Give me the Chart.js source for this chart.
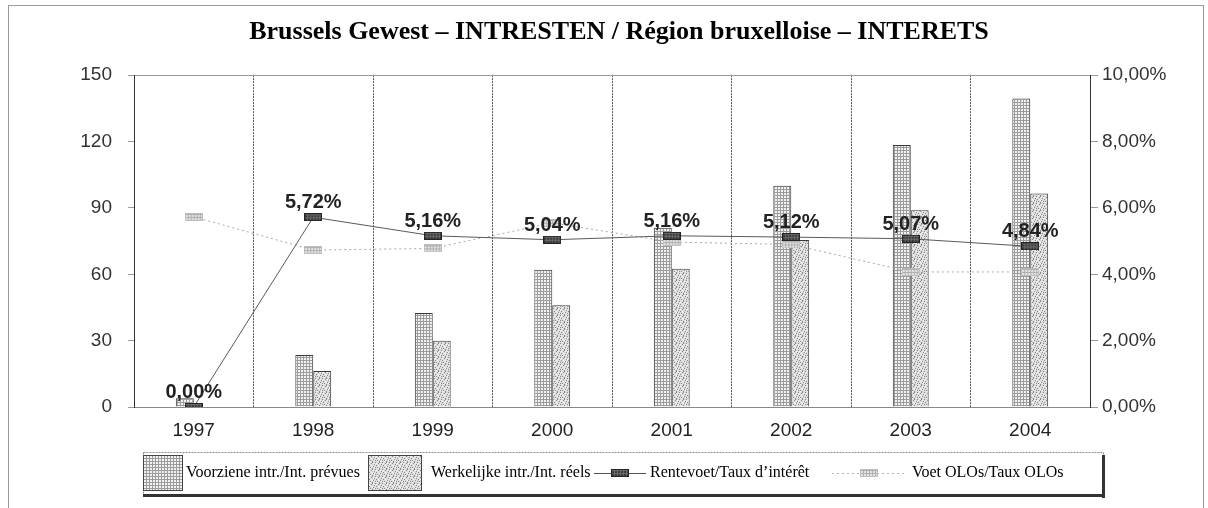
<!DOCTYPE html>
<html lang="fr">
<head>
  <meta charset="UTF-8">
  <title>Brussels Gewest - Intresten</title>
  <script src="https://cdn.jsdelivr.net/npm/chart.js"></script>
  <style>
    body {
      margin: 0;
      background: #fff;
    }

    .wrap {
      position: relative;
      width: 1208px;
      height: 508px;
    }

    .frame {
      position: absolute;
      left: 8px;
      top: 5px;
      width: 1194px;
      height: 510px;
      border: 1px solid #9a9a9a;
      pointer-events: none;
    }
  </style>
</head>
<body>

  <div class="wrap">
    <canvas id="chart" width="1208" height="508"></canvas>
    <div class="frame"></div>
  </div>

  <script>
    const years = ["1997", "1998", "1999", "2000", "2001", "2002", "2003", "2004"];
    const voorziene = [4, 23.5, 42.5, 62, 81, 100, 118.5, 139.5];
    const werkelijke = [0, 16.3, 30, 46, 62.5, 75.5, 89, 96.5];
    const rentevoet = [0, 5.72, 5.16, 5.04, 5.16, 5.12, 5.07, 4.84];
    const olo = [5.73, 4.73, 4.78, 5.55, 4.97, 4.9, 4.07, 4.07];

    const seriesNames = [
      "Voorziene intr./Int. prévues",
      "Werkelijke intr./Int. réels",
      "Rentevoet/Taux d\u2019intérêt",
      "Voet OLOs/Taux OLOs"
    ];

    const pct = v => v.toFixed(2).replace(".", ",") + "%";

    function tile(w, h, draw) {
      const c = document.createElement("canvas");
      c.width = w;
      c.height = h;
      draw(c.getContext("2d"));
      return c;
    }

    // fine grid texture for the planned interest bars
    const gridTile = tile(3, 3, g => {
      g.fillStyle = "#f2f2f2";
      g.fillRect(0, 0, 3, 3);
      g.fillStyle = "#9c9c9c";
      g.fillRect(0, 0, 3, 1);
      g.fillRect(0, 0, 1, 3);
    });

    // speckled texture for the real interest bars
    const speckTile = tile(7, 7, g => {
      g.fillStyle = "#dcdcdc";
      g.fillRect(0, 0, 7, 7);
      g.fillStyle = "#8a8a8a";
      [[0, 0], [3, 1], [6, 2], [1, 3], [5, 4], [2, 5], [4, 6], [4, 0], [0, 5]].forEach(([x, y]) => g.fillRect(x, y, 1, 1));
      g.fillStyle = "#f6f6f6";
      [[1, 1], [5, 1], [3, 3], [0, 2], [6, 5], [2, 6], [4, 4]].forEach(([x, y]) => g.fillRect(x, y, 1, 1));
    });

    const tmp = document.createElement("canvas").getContext("2d");
    const gridPattern = tmp.createPattern(gridTile, "repeat");
    const speckPattern = tmp.createPattern(speckTile, "repeat");

    function marker(fill, lines, edge) {
      return tile(18, 8, g => {
        g.fillStyle = fill;
        g.fillRect(0, 0, 18, 8);
        g.fillStyle = lines;
        for (let x = 0; x < 18; x += 3) g.fillRect(x, 0, 1, 8);
        for (let y = 1; y < 8; y += 3) g.fillRect(0, y, 18, 1);
        g.strokeStyle = edge;
        g.strokeRect(0.5, 0.5, 17, 7);
      });
    }

    const rateMarker = marker("#3a3a3a", "#6a6a6a", "#222");
    const oloMarker = marker("#e4e4e4", "#b0b0b0", "#bdbdbd");

    function barIcon(pattern, w, h) {
      return tile(w, h, g => {
        g.fillStyle = pattern;
        g.fillRect(0, 0, w, h);
        g.strokeStyle = "#444";
        g.strokeRect(0.5, 0.5, w - 1, h - 1);
      });
    }

    function lineIcon(mk, w, color, dash) {
      return tile(w, 10, g => {
        g.strokeStyle = color;
        g.setLineDash(dash);
        g.beginPath();
        g.moveTo(0, 5.5);
        g.lineTo(w, 5.5);
        g.stroke();
        g.drawImage(mk, Math.round(w / 2 - 9), 1);
      });
    }

    const legendIcons = [
      barIcon(gridPattern, 40, 36),
      barIcon(speckPattern, 54, 36),
      lineIcon(rateMarker, 52, "#555", []),
      lineIcon(oloMarker, 74, "#b4b4b4", [2, 3])
    ];
    // icon left edge and text start of each legend entry
    const legendSlots = [[143, 186], [368, 431], [594, 650], [832, 912]];

    // rate labels above the interest-rate markers
    const rateLabels = {
      id: "rateLabels",
      afterDatasetsDraw(chart) {
        const meta = chart.getDatasetMeta(2);
        const ctx = chart.ctx;
        ctx.save();
        ctx.font = "bold 20px 'Liberation Sans', Arial, sans-serif";
        ctx.fillStyle = "#222";
        ctx.textAlign = "center";
        ctx.textBaseline = "alphabetic";
        meta.data.forEach((pt, i) => {
          ctx.fillText(pct(rentevoet[i]), pt.x, pt.y - 9);
        });
        ctx.restore();
      }
    };

    // framed legend under the plot, with a dark drop edge
    const boxLegend = {
      id: "boxLegend",
      afterDraw(chart) {
        const ctx = chart.ctx;
        const ca = chart.chartArea;
        const left = 143;
        const right = ca.right + 13;
        const top = 452;
        const bottom = 495;
        const cy = 473;
        ctx.save();
        ctx.strokeStyle = "#8a8a8a";
        ctx.lineWidth = 1;
        ctx.setLineDash([2, 1]);
        ctx.strokeRect(left + 0.5, top + 0.5, right - left, bottom - top);
        ctx.setLineDash([]);
        ctx.fillStyle = "#333";
        ctx.fillRect(right - 1, top + 3, 3, bottom - top);
        ctx.fillRect(left, bottom - 1, right - left + 2, 3);

        ctx.font = "16px 'Liberation Serif', 'Times New Roman', serif";
        ctx.fillStyle = "#000";
        ctx.textBaseline = "middle";
        legendIcons.forEach((icon, i) => {
          const [ix, tx] = legendSlots[i];
          ctx.drawImage(icon, ix, Math.round(cy - icon.height / 2));
          ctx.fillText(seriesNames[i], tx, cy);
        });
        ctx.restore();
      }
    };

    const tickFont = { family: "'Liberation Sans', Arial, sans-serif", size: 19 };

    new Chart(document.getElementById("chart"), {
      type: "bar",
      data: {
        labels: years,
        datasets: [
          {
            label: seriesNames[0],
            data: voorziene,
            backgroundColor: gridPattern,
            borderColor: "#3a3a3a",
            borderWidth: 1,
            categoryPercentage: 0.3,
            barPercentage: 1,
            yAxisID: "y",
            order: 1
          },
          {
            label: seriesNames[1],
            data: werkelijke,
            backgroundColor: speckPattern,
            borderColor: "#3a3a3a",
            borderWidth: 1,
            categoryPercentage: 0.3,
            barPercentage: 1,
            yAxisID: "y",
            order: 1
          },
          {
            type: "line",
            label: seriesNames[2],
            data: rentevoet,
            borderColor: "#5a5a5a",
            borderWidth: 1,
            pointStyle: rateMarker,
            yAxisID: "y1",
            order: 0
          },
          {
            type: "line",
            label: seriesNames[3],
            data: olo,
            borderColor: "#a8a8a8",
            borderWidth: 1,
            borderDash: [2, 3],
            pointStyle: oloMarker,
            yAxisID: "y1",
            order: 0
          }
        ]
      },
      options: {
        responsive: false,
        animation: false,
        layout: {
          padding: { left: 30, right: 0, top: 0, bottom: 53 }
        },
        plugins: {
          title: {
            display: true,
            text: "Brussels Gewest \u2013 INTRESTEN / Région bruxelloise \u2013 INTERETS",
            color: "#000",
            font: { family: "'Liberation Serif', 'Times New Roman', serif", size: 26, weight: "bold" },
            padding: { top: 17, bottom: 27 }
          },
          legend: { display: false },
          tooltip: { enabled: false }
        },
        scales: {
          x: {
            offset: true,
            afterFit: s => { s.height = 48; },
            grid: {
              offset: true,
              color: "#555",
              borderDash: [4, 2],
              drawTicks: false
            },
            border: { color: "#888", dash: [2, 1] },
            ticks: {
              color: "#222",
              padding: 12,
              font: tickFont
            }
          },
          y: {
            position: "left",
            min: 0,
            max: 150,
            afterFit: s => { s.width = 104; },
            ticks: {
              stepSize: 30,
              color: "#333",
              padding: 16,
              font: tickFont
            },
            grid: {
              color: c => c.tick && c.tick.value === 150 ? "#999" : "transparent",
              tickColor: "#999",
              tickLength: 6
            },
            border: { color: "#333", width: 1 }
          },
          y1: {
            position: "right",
            min: 0,
            max: 10,
            afterFit: s => { s.width = 118; },
            ticks: {
              stepSize: 2,
              color: "#333",
              padding: 4,
              callback: v => pct(v),
              font: tickFont
            },
            grid: {
              drawOnChartArea: false,
              tickColor: "#999",
              tickLength: 8
            },
            border: { color: "#333", width: 1 }
          }
        }
      },
      plugins: [rateLabels, boxLegend]
    });
  </script>
</body>
</html>
